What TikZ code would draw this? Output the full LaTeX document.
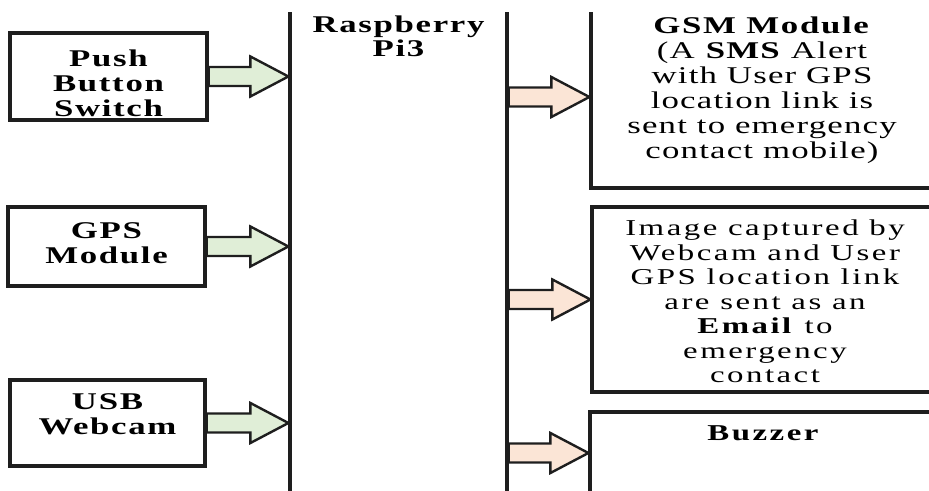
\documentclass[tikz,border=0pt]{standalone}
\usepackage{fontspec}
\setmainfont{Liberation Serif}[FakeStretch=1.45,LetterSpace=5]
\newfontfamily\widefont{Liberation Serif}[FakeStretch=1.45,LetterSpace=7]
\newfontfamily\midfont{Liberation Serif}[FakeStretch=1.45,LetterSpace=11]
\usetikzlibrary{calc}

\definecolor{inarrow}{RGB}{224,238,215}
\definecolor{outarrow}{RGB}{251,229,214}
\definecolor{edge}{RGB}{30,30,30}

\tikzset{
  frame/.style={draw=edge, line width=2.4pt, inner sep=0pt},
  inlabel/.style={inner sep=0pt, align=center, font=\fontsize{18pt}{18.75pt}\widefont\bfseries},
  bodytext/.style={inner sep=0pt, align=center, font=\fontsize{18pt}{18.75pt}\selectfont},
  blockarrow/.style={draw=edge, line width=1.8pt, line join=miter},
}

% block arrow between two points on one level: fill, from, to
\newcommand\blockarrow[3]{%
  \draw[blockarrow, fill=#1] let \p1=#2, \p2=#3 in
    (\x1,\y1-7.1pt) -- (\x2-28.5pt,\y1-7.1pt) -- (\x2-28.5pt,\y1-15pt) -- (\x2,\y1)
    -- (\x2-28.5pt,\y1+15pt) -- (\x2-28.5pt,\y1+7.1pt) -- (\x1,\y1+7.1pt) -- cycle;}

\begin{document}
\begin{tikzpicture}[x=0.75pt,y=0.75pt,yscale=-1,xscale=1]
\useasboundingbox (0,0) rectangle (929,491);
\clip (0,13) rectangle (929,491);

%Shape: Rectangle (inputs)
\node[frame, minimum width=197*0.75pt, minimum height=87*0.75pt] (pbs) at (108.5,76.5) {};
\node[frame, minimum width=197*0.75pt, minimum height=79*0.75pt] (gps) at (106.5,246.5) {};
\node[frame, minimum width=195*0.75pt, minimum height=86*0.75pt] (usb) at (107.5,423) {};

%Shape: Rectangle (controller)
\node[frame, minimum width=217*0.75pt, minimum height=494*0.75pt] (rpi) at (398.5,253) {};

%Shape: Rectangle (outputs)
\node[frame, minimum width=369*0.75pt, minimum height=182*0.75pt] (gsm) at (775.5,97) {};
\node[frame, minimum width=368*0.75pt, minimum height=185*0.75pt] (email) at (776,299.5) {};
\node[frame, minimum width=370*0.75pt, minimum height=82*0.75pt] (buzzer) at (775,453) {};

% Text Node
\node[inlabel] (pbstext) at ($(pbs.center)+(0,7)$) {Push\\Button\\Switch};
% Text Node
\node[inlabel] (gpstext) at ($(gps.center)+(0,-3)$) {GPS\\Module};
% Text Node
\node[inlabel] (usbtext) at ($(usb.center)+(0,-9)$) {USB\\Webcam};
% Text Node
\node[inlabel, anchor=north, font=\fontsize{18pt}{18pt}\widefont\bfseries] (pitext) at (398.5,16) {Raspberry\\Pi3};
% Text Node
\node[bodytext] (gsmtext) at (762,90.5) {\textbf{\widefont GSM Module}\\(A \textbf{SMS} Alert\\with User GPS\\location link is\\sent to emergency\\contact mobile)};
% Text Node
\node[bodytext, font=\fontsize{17pt}{18.4pt}\midfont] (emailtext) at (765,301.5) {Image captured by\\Webcam and User\\GPS location link\\are sent as an\\\textbf{Email} to\\emergency\\contact};
% Text Node
\node[bodytext, font=\fontsize{17pt}{19.5pt}\midfont\bfseries] (buzzertext) at (763,433) {Buzzer};

%Right Arrows
\blockarrow{inarrow}{(pbs.east)}{(pbs.east -| rpi.west)}
\blockarrow{inarrow}{(gps.east)}{(gps.east -| rpi.west)}
\blockarrow{inarrow}{(usb.east)}{(usb.east -| rpi.west)}
\blockarrow{outarrow}{(gsm.west -| rpi.east)}{(gsm.west)}
\blockarrow{outarrow}{(email.west -| rpi.east)}{(email.west)}
\blockarrow{outarrow}{(buzzer.west -| rpi.east)}{(buzzer.west)}

\end{tikzpicture}
\end{document}
